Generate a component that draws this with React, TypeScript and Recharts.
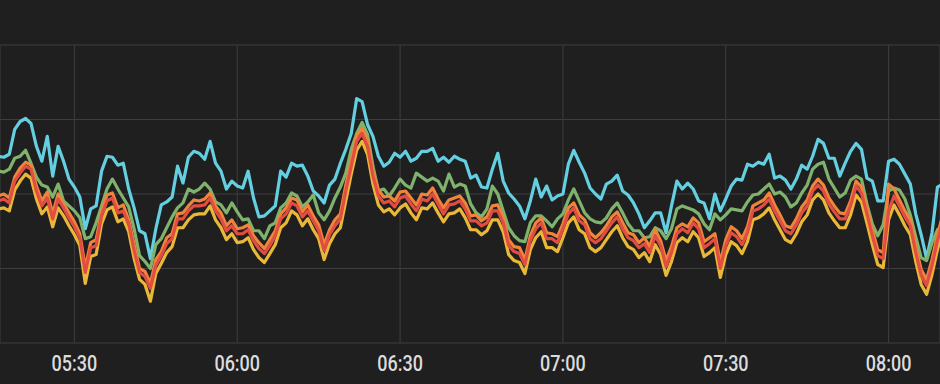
import React from "react";
import { LineChart, Line, XAxis, YAxis, CartesianGrid } from "recharts";

// one sample per minute, starting 05:16 (316 minutes after midnight)
const START_MINUTE = 316;
const X_DOMAIN: [number, number] = [316.29, 489.47];
const X_TICKS = [330, 360, 390, 420, 450, 480];
const Y_TICKS = [0, 7.5, 15, 22.5, 30];

const cyanSeries = [
  18.8, 18.7, 19.0, 21.5, 22.3, 22.6, 22.1, 19.8, 18.3, 20.8,
  16.8, 19.8, 18.3, 16.5, 15.7, 14.7, 11.5, 13.5, 13.8, 17.3,
  18.8, 18.7, 17.9, 18.1, 15.5, 13.6, 11.3, 11.0, 8.5, 11.5,
  13.9, 14.2, 14.7, 17.8, 16.1, 18.7, 19.3, 19.1, 18.5, 20.3,
  18.1, 17.3, 15.5, 16.3, 15.8, 15.6, 17.3, 14.6, 12.7, 12.8,
  13.3, 13.8, 17.3, 16.7, 18.1, 17.8, 17.9, 16.8, 15.3, 14.8,
  14.1, 15.9, 16.5, 18.1, 19.5, 21.1, 24.6, 24.3, 22.0, 20.8,
  18.8, 17.8, 18.2, 19.1, 18.7, 19.3, 18.3, 18.6, 19.3, 19.3,
  19.6, 18.3, 18.7, 18.2, 18.8, 18.5, 18.3, 16.6, 16.9, 15.7,
  15.6, 17.5, 19.1, 16.3, 15.1, 14.5, 13.8, 12.5, 14.3, 16.5,
  14.7, 15.8, 14.4, 14.8, 15.0, 18.0, 19.4, 18.2, 17.1, 15.6,
  15.0, 14.5, 16.0, 16.3, 16.9, 15.3, 14.9, 14.1, 13.0, 11.6,
  12.3, 13.1, 13.1, 11.1, 13.8, 16.3, 15.5, 16.1, 15.5, 14.3,
  14.1, 12.5, 15.0, 13.3, 14.5, 15.8, 16.5, 16.4, 18.0, 17.8,
  18.2, 18.0, 19.0, 16.6, 16.8, 16.4, 15.5, 16.5, 17.9, 17.5,
  18.8, 20.5, 20.1, 18.6, 18.6, 16.8, 18.1, 19.3, 20.1, 19.5,
  16.6, 16.3, 14.3, 14.3, 18.3, 18.5, 18.0, 17.0, 16.0, 13.0,
  10.9, 8.5, 11.1, 15.7, 16.0,
];

const greenSeries = [
  17.3, 17.2, 17.5, 18.6, 18.8, 19.4, 18.1, 16.7, 15.9, 15.7,
  14.7, 16.0, 14.3, 13.8, 13.3, 12.6, 10.5, 10.7, 12.1, 13.8,
  15.5, 16.5, 15.5, 14.6, 13.7, 11.5, 8.8, 8.2, 7.5, 9.9,
  10.5, 11.6, 12.7, 13.6, 14.1, 15.5, 15.2, 15.5, 16.1, 15.5,
  14.2, 13.9, 13.1, 14.1, 13.2, 12.4, 12.5, 11.3, 11.3, 10.5,
  11.8, 12.1, 13.6, 14.1, 15.1, 14.8, 13.7, 14.2, 14.9, 13.1,
  12.4, 13.3, 14.6, 15.7, 17.1, 19.5, 21.1, 22.2, 21.0, 17.8,
  15.3, 15.5, 14.8, 15.6, 16.5, 15.9, 15.6, 17.1, 16.7, 16.3,
  16.6, 16.3, 15.3, 17.0, 15.7, 16.0, 15.8, 14.0, 13.1, 12.7,
  13.5, 15.8, 15.0, 13.3, 11.6, 10.8, 10.3, 10.2, 12.1, 12.8,
  12.8, 12.3, 11.7, 12.5, 13.0, 14.4, 15.5, 14.3, 13.1, 12.5,
  12.2, 12.1, 12.6, 13.5, 14.1, 13.1, 12.0, 11.3, 11.3, 10.6,
  10.7, 11.6, 11.3, 10.5, 11.5, 13.5, 13.8, 13.6, 13.4, 13.0,
  12.0, 11.4, 13.0, 12.4, 12.9, 13.5, 13.4, 13.3, 14.2, 14.9,
  15.0, 15.5, 16.0, 15.0, 15.2, 14.7, 13.7, 14.1, 15.1, 15.9,
  17.5, 18.0, 18.2, 16.5, 15.6, 14.7, 15.1, 16.4, 16.8, 16.5,
  14.0, 12.0, 10.8, 11.9, 15.3, 15.6, 15.4, 14.5, 12.9, 10.7,
  8.6, 8.3, 10.1, 11.4, 11.7,
];

const orangeSeries = [
  14.8, 15.0, 14.6, 16.7, 17.6, 18.2, 17.9, 15.8, 14.3, 15.2,
  13.0, 15.0, 14.0, 13.1, 12.2, 11.0, 7.6, 10.1, 10.4, 13.2,
  14.9, 15.1, 13.6, 13.9, 12.4, 9.9, 7.5, 7.2, 6.0, 8.4,
  9.2, 10.6, 11.0, 13.0, 13.1, 13.8, 14.4, 14.3, 14.5, 15.1,
  13.8, 13.1, 11.8, 12.4, 11.5, 11.6, 11.9, 10.8, 10.1, 9.5,
  10.4, 11.3, 13.0, 13.6, 14.6, 14.4, 13.2, 13.9, 12.8, 11.9,
  9.9, 11.4, 12.4, 13.0, 15.9, 18.4, 20.9, 21.6, 20.4, 17.3,
  15.4, 14.7, 14.8, 14.3, 15.2, 15.3, 14.6, 13.9, 15.0, 14.9,
  15.6, 14.5, 13.6, 14.4, 14.6, 14.8, 14.1, 12.8, 12.9, 12.3,
  12.7, 13.8, 13.9, 12.6, 10.4, 9.7, 9.6, 8.4, 10.8, 12.1,
  12.6, 11.1, 11.0, 10.7, 12.0, 13.6, 14.1, 12.9, 12.4, 11.1,
  10.6, 11.1, 11.8, 12.7, 13.2, 12.1, 11.1, 10.9, 10.1, 10.6,
  9.7, 11.4, 10.3, 8.3, 9.7, 11.6, 12.0, 11.7, 12.6, 12.1,
  10.2, 10.6, 11.0, 8.1, 10.4, 11.7, 11.3, 10.5, 11.7, 13.8,
  14.1, 14.4, 15.1, 13.9, 12.9, 11.8, 11.6, 12.5, 13.7, 14.4,
  15.8, 16.5, 15.9, 14.6, 13.8, 13.1, 13.0, 14.3, 16.3, 15.7,
  13.6, 11.4, 9.4, 9.1, 16.0, 15.5, 14.4, 13.3, 12.4, 9.7,
  7.4, 6.4, 8.4, 10.9, 12.9,
];

const redSeries = [
  14.3, 14.5, 14.1, 16.3, 17.1, 17.8, 17.5, 15.3, 13.8, 14.6,
  12.5, 14.5, 13.6, 12.6, 11.7, 10.6, 7.1, 9.6, 9.8, 12.8,
  14.3, 14.6, 13.1, 13.3, 12.0, 9.3, 7.1, 6.7, 5.5, 7.8,
  8.8, 10.0, 10.5, 12.5, 12.5, 13.3, 13.8, 13.8, 13.9, 14.6,
  13.3, 12.5, 11.3, 11.8, 11.0, 11.0, 11.4, 10.3, 9.5, 9.0,
  9.8, 10.8, 12.5, 13.0, 14.1, 13.8, 12.7, 13.3, 12.3, 11.3,
  9.3, 10.9, 11.8, 12.5, 15.3, 17.8, 20.3, 21.1, 19.8, 16.8,
  14.8, 14.1, 14.3, 13.7, 14.6, 14.8, 14.0, 13.3, 14.5, 14.3,
  15.0, 14.0, 13.0, 13.9, 14.0, 14.3, 13.5, 12.3, 12.3, 11.8,
  12.1, 13.3, 13.3, 12.1, 9.8, 9.2, 9.0, 7.9, 10.3, 11.5,
  12.1, 10.5, 10.5, 10.1, 11.5, 13.0, 13.6, 12.3, 11.9, 10.5,
  10.1, 10.5, 11.3, 12.1, 12.7, 11.5, 10.6, 10.3, 9.6, 10.0,
  9.1, 10.8, 9.8, 7.7, 9.1, 11.0, 11.5, 11.1, 12.1, 11.5,
  9.6, 10.0, 10.5, 7.5, 9.8, 11.1, 10.7, 9.9, 11.1, 13.3,
  13.5, 13.9, 14.5, 13.3, 12.3, 11.3, 11.0, 11.9, 13.1, 13.8,
  15.3, 15.9, 15.3, 14.0, 13.2, 12.5, 12.5, 13.8, 15.8, 15.1,
  13.0, 10.8, 8.8, 8.5, 13.3, 14.8, 13.8, 12.7, 11.8, 9.1,
  6.8, 5.8, 7.8, 10.3, 12.3,
];

const yellowSeries = [
  13.5, 13.6, 13.3, 15.4, 16.3, 17.0, 16.6, 14.5, 13.0, 13.7,
  11.7, 13.6, 12.8, 11.8, 10.9, 9.8, 6.0, 8.7, 8.9, 12.0,
  13.4, 13.7, 12.2, 12.5, 11.2, 8.5, 6.4, 5.9, 4.2, 7.0,
  8.0, 9.1, 9.7, 11.6, 11.6, 12.4, 12.9, 13.0, 13.0, 13.8,
  12.4, 11.6, 10.4, 11.0, 10.1, 10.2, 10.6, 9.4, 8.6, 8.1,
  9.0, 9.9, 11.6, 12.1, 13.3, 12.9, 11.8, 12.5, 11.4, 10.5,
  8.4, 10.0, 11.0, 11.6, 14.3, 17.0, 19.4, 20.3, 19.0, 16.0,
  13.9, 13.2, 13.5, 12.9, 13.6, 14.0, 13.1, 12.4, 13.6, 13.5,
  14.1, 13.1, 12.2, 13.0, 13.1, 13.5, 12.6, 11.4, 11.4, 10.9,
  11.3, 12.4, 12.4, 11.2, 8.9, 8.3, 8.1, 7.0, 9.4, 10.6,
  11.2, 9.6, 9.6, 9.2, 10.6, 12.1, 12.7, 11.4, 11.0, 9.6,
  9.2, 9.6, 10.4, 11.2, 11.8, 10.6, 9.7, 9.4, 8.6, 9.1,
  8.2, 9.9, 8.9, 6.8, 8.2, 10.1, 10.6, 10.2, 11.2, 10.6,
  8.7, 9.1, 9.6, 6.6, 8.9, 10.2, 9.8, 9.0, 10.2, 12.4,
  12.6, 13.0, 13.6, 12.4, 11.4, 10.4, 10.1, 11.0, 12.2, 12.9,
  14.4, 15.0, 14.4, 13.1, 12.3, 11.6, 11.6, 12.9, 14.9, 14.2,
  12.1, 9.9, 7.9, 7.6, 12.4, 13.9, 12.9, 11.8, 10.9, 8.2,
  5.9, 4.9, 6.9, 9.4, 11.4,
];

const data = cyanSeries.map((v, i) => ({
  t: START_MINUTE + i,
  cyan: v,
  green: greenSeries[i],
  orange: orangeSeries[i],
  red: redSeries[i],
  yellow: yellowSeries[i],
}));

const fmtTime = (m: number) =>
  `${String(Math.floor(m / 60)).padStart(2, "0")}:${String(m % 60).padStart(2, "0")}`;

const TimeTick = (props: any) => {
  const { x, y, payload } = props;
  return (
    <g transform={`translate(${x},${y})`}>
      <text
        x={0}
        y={23.3}
        textAnchor="middle"
        fill="#dcdcdd"
        fontSize={18}
        fontWeight={500}
        fontFamily="Roboto, 'Noto Sans', sans-serif"
        transform="scale(1,1.2)"
      >
        {fmtTime(payload.value)}
      </text>
    </g>
  );
};

export default function App() {
  return (
    <div
      style={{
        position: "absolute",
        left: 0,
        top: 0,
        width: 940,
        height: 384,
        background: "#1f1f20",
      }}
    >
      <LineChart
        width={940}
        height={384}
        data={data}
        margin={{ top: 45, right: 0, bottom: 0, left: 0 }}
      >
        <CartesianGrid stroke="#3e3e41" strokeWidth={1} />
        <XAxis
          dataKey="t"
          type="number"
          domain={X_DOMAIN}
          allowDataOverflow
          ticks={X_TICKS}
          tick={<TimeTick />}
          tickLine={false}
          axisLine={false}
          tickSize={0}
          tickMargin={0}
          height={41}
          interval={0}
        />
        <YAxis hide domain={[0, 30]} ticks={Y_TICKS} allowDataOverflow />
        <Line dataKey="cyan" stroke="#64cfe0" strokeWidth={3.2} dot={false} isAnimationActive={false} strokeLinejoin="round" />
        <Line dataKey="green" stroke="#7eb26d" strokeWidth={3.2} dot={false} isAnimationActive={false} strokeLinejoin="round" />
        <Line dataKey="yellow" stroke="#eab839" strokeWidth={3.2} dot={false} isAnimationActive={false} strokeLinejoin="round" />
        <Line dataKey="orange" stroke="#ef843c" strokeWidth={3.2} dot={false} isAnimationActive={false} strokeLinejoin="round" />
        <Line dataKey="red" stroke="#e24d42" strokeWidth={3.2} dot={false} isAnimationActive={false} strokeLinejoin="round" />
      </LineChart>
    </div>
  );
}
